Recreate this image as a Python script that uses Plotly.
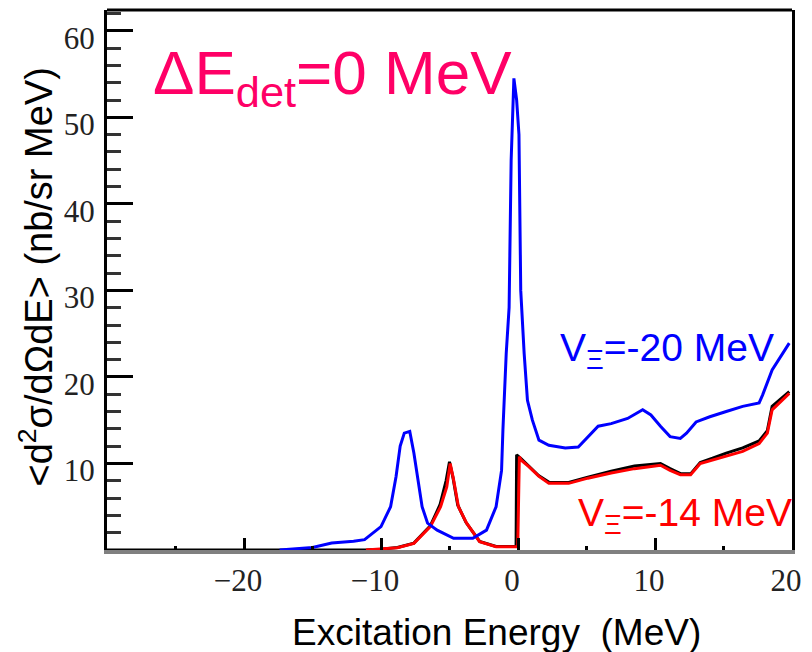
import plotly.graph_objects as go

# ---- data ----
blue_x = [-17.4, -15.0, -13.6, -12.0, -11.2, -10.0, -9.3, -8.9, -8.6, -8.3, -7.9, -7.6, -7.0, -6.6,
          -5.9, -4.7, -3.3, -2.3, -1.6, -1.2, -1.1, -0.86, -0.65, -0.5, -0.3, -0.1, 0.07, 0.2,
          0.45, 0.69, 1.05, 1.53, 2.25, 3.45, 4.4, 5.1, 5.85, 6.8, 8.0, 9.1, 9.7, 10.4, 11.1,
          11.85, 12.3, 13.0, 14.0, 15.2, 16.4, 17.6, 17.85, 18.55, 19.8]
blue_y = [0.0, 0.3, 0.8, 1.0, 1.2, 2.7, 5.0, 8.5, 12.0, 13.5, 13.7, 11.2, 5.0, 3.1,
          2.3, 1.35, 1.35, 2.3, 5.0, 9.2, 13.9, 22.7, 28.0, 45.0, 54.5, 52.0, 48.0, 30.0,
          22.7, 17.3, 15.0, 12.7, 12.1, 11.8, 11.9, 13.1, 14.3, 14.6, 15.2, 16.2, 15.6, 14.3, 13.1,
          12.9, 13.5, 14.8, 15.4, 16.0, 16.6, 17.0, 17.9, 20.8, 23.9]

red_x = [-11.1, -10.0, -8.8, -7.6, -6.4, -5.65, -5.2, -4.95, -4.7, -4.35, -3.75, -2.8, -1.6, -0.02,
         0.1, 0.22, 0.81, 1.53, 2.25, 3.7, 5.1, 6.8, 8.5, 10.4, 11.1, 11.85, 12.6, 13.3, 14.2,
         15.2, 16.4, 17.6, 18.2, 18.55, 19.8]
red_y = [0.0, 0.1, 0.27, 0.77, 2.7, 5.0, 7.3, 10.0, 8.1, 5.0, 3.1, 0.96, 0.39, 0.39,
         10.8, 10.4, 9.6, 8.5, 7.7, 7.7, 8.3, 8.9, 9.4, 9.8, 9.2, 8.7, 8.7, 10.0, 10.4,
         10.8, 11.4, 12.3, 13.5, 16.2, 18.1]

black_x = [-30.0, -11.1, -10.0, -8.8, -7.6, -6.4, -5.7, -5.25, -5.0, -4.75, -4.4, -3.8, -2.8, -1.6,
           -0.14, -0.1, 0.2, 0.8, 1.5, 2.3, 3.7, 5.1, 6.8, 8.5, 10.4, 11.1, 11.9, 12.6, 13.3,
           14.2, 15.2, 16.4, 17.6, 18.2, 18.55, 19.8]
black_y = [0.0, 0.0, 0.1, 0.3, 0.8, 2.8, 5.2, 8.0, 10.2, 8.4, 5.2, 3.2, 1.0, 0.4,
           0.4, 11.0, 10.6, 9.7, 8.6, 7.8, 7.8, 8.4, 9.1, 9.7, 10.0, 9.4, 8.8, 8.8, 10.1,
           10.6, 11.2, 11.8, 12.6, 13.8, 16.6, 18.3]

x_tickvals = [-20, -10, 0, 10, 20]
x_ticktext = ["\u221220", "\u221210", "0", "10", "20"]
y_tickvals = [10, 20, 30, 40, 50, 60]
y_ticktext = ["10", "20", "30", "40", "50", "60"]

fig = go.Figure()
fig.add_trace(go.Scatter(x=black_x, y=black_y, mode="lines",
                         line=dict(color="black", width=3), showlegend=False))
fig.add_trace(go.Scatter(x=red_x, y=red_y, mode="lines",
                         line=dict(color="#ff0000", width=3), showlegend=False))
fig.add_trace(go.Scatter(x=blue_x, y=blue_y, mode="lines",
                         line=dict(color="#0000ff", width=3), showlegend=False))

tickfont = dict(family="Liberation Serif", size=31, color="#222222")

fig.update_layout(
    width=812, height=652,
    margin=dict(l=107, r=14, t=10, b=102),
    paper_bgcolor="white", plot_bgcolor="white",
    showlegend=False,
    xaxis=dict(range=[-30, 20], showgrid=False, zeroline=False,
               showline=True, linecolor="#808080", linewidth=4,
               ticks="inside", ticklen=12, tickwidth=3, tickcolor="black",
               tickvals=x_tickvals, ticktext=x_ticktext, tickfont=tickfont,
               ticklabelshift=-6,
               minor=dict(ticks="inside", dtick=5, ticklen=4, tickwidth=3, tickcolor="black")),
    yaxis=dict(range=[0, 62.4], showgrid=False, zeroline=False,
               showline=True, linecolor="black", linewidth=3, mirror=True,
               ticks="inside", ticklen=26, tickwidth=3, tickcolor="black",
               tickvals=y_tickvals, ticktext=y_ticktext, tickfont=tickfont,
               ticklabelshift=7, ticklabelstandoff=3,
               minor=dict(ticks="inside", dtick=2, ticklen=14, tickwidth=3, tickcolor="#333333")),
    shapes=[dict(type="line", xref="paper", yref="paper", x0=0, x1=1, y0=1, y1=1,
                 line=dict(color="black", width=3))],
    annotations=[
        dict(text="\u0394E<sub>det</sub>=0 MeV", xref="paper", yref="paper",
             x=0.064, y=0.876, xanchor="left", yanchor="middle", showarrow=False,
             font=dict(family="Liberation Sans", size=62, color="#ff0066")),
        dict(text="V<sub>\u039e</sub>=-20 MeV", xref="paper", yref="paper",
             x=0.659, y=0.37, xanchor="left", yanchor="middle", showarrow=False,
             font=dict(family="Liberation Sans", size=39, color="#0000ff")),
        dict(text="V<sub>\u039e</sub>=-14 MeV", xref="paper", yref="paper",
             x=0.684, y=0.064, xanchor="left", yanchor="middle", showarrow=False,
             font=dict(family="Liberation Sans", size=39, color="#ff0000")),
        dict(text="Excitation Energy\u00a0 (MeV)", xref="paper", yref="paper",
             x=0.569, y=-0.152, xanchor="center", yanchor="middle", showarrow=False,
             font=dict(family="Liberation Sans", size=37, color="black")),
        dict(text="&lt;d<sup>2</sup>\u03c3/d\u03a9dE&gt; (nb/sr MeV)", xref="paper", yref="paper",
             x=-0.104, y=0.506, xanchor="center", yanchor="middle", showarrow=False,
             textangle=-90,
             font=dict(family="Liberation Sans", size=38, color="black")),
    ],
)

fig.write_html("out.html")
